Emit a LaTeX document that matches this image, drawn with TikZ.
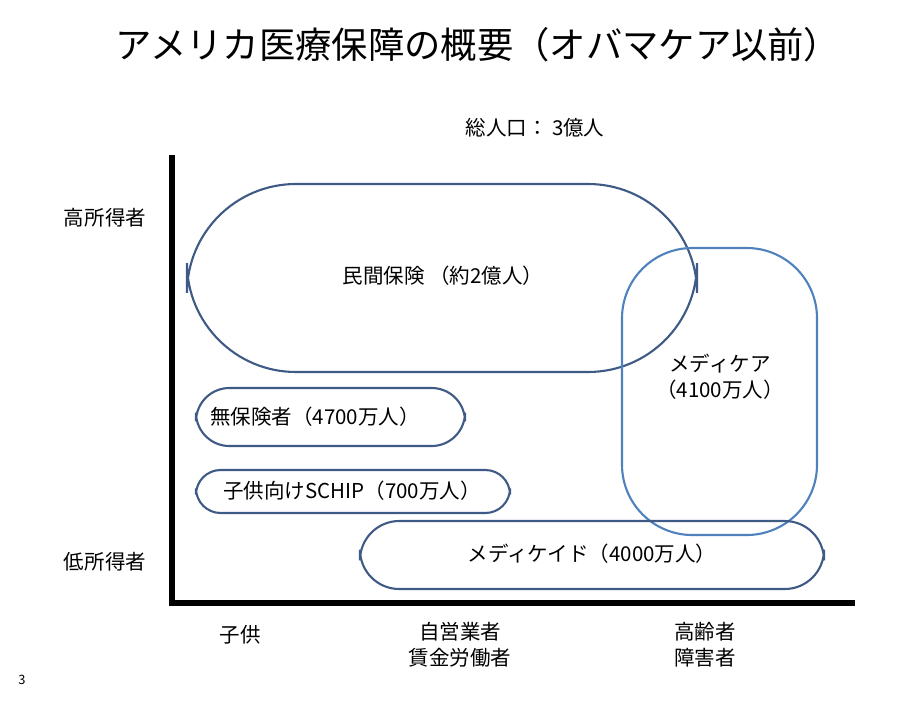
\documentclass[tikz,border=0pt]{standalone}
\usepackage{fontspec}
\setmainfont{Noto Sans CJK JP}
\usepackage{tikz}
\definecolor{darkblue}{HTML}{3F5A85}
\definecolor{lightblue}{HTML}{4F81BD}
\begin{document}
\begin{tikzpicture}[x=0.03cm,y=-0.03cm]
  \tikzset{
    group/.style={draw=darkblue,line width=1.8pt,rounded corners=#1,inner sep=0pt},
    lbl/.style={font=\fontsize{17.5}{22}\selectfont,align=center},
    axis/.style={line width=5pt}
  }
  \useasboundingbox (0,0) rectangle (904,701);

  \node[font=\fontsize{31}{36}\selectfont] (title) at (478,45) {アメリカ医療保障の概要（オバマケア以前）};
  \node[lbl] (total) at (535,128) {総人口：\ 3億人};

  % axes
  \coordinate (top) at (172,155);
  \coordinate (origin) at (172,603);
  \coordinate (right) at (855,603);
  \draw[axis] (top) -- (origin) -- (right);

  % groups
  \draw[group=93] (187,184) rectangle (697,372);
  \draw[group=60,draw=lightblue] (622,248) rectangle (817,535);
  \draw[group=28.5] (196,388) rectangle (465,446);
  \draw[group=21] (196,470) rectangle (510,513);
  \draw[group=33.5] (360,521) rectangle (824,589);

  \node[lbl] (private) at (443,276) {民間保険\ （約2億人）};
  \node[lbl] (medicare) at (720,377) {メディケア\\（4100万人）};
  \node[lbl] (uninsured) at (315,417) {無保険者（4700万人）};
  \node[lbl] (schip) at (352,491) {子供向けSCHIP（700万人）};
  \node[lbl] (medicaid) at (592,554) {メディケイド（4000万人）};

  % axis labels
  \node[lbl] (high) at (105,218) {高所得者};
  \node[lbl] (low) at (105,562) {低所得者};
  \node[lbl] (child) at (240,635) {子供};
  \node[lbl] (worker) at (460,645) {自営業者\\賃金労働者};
  \node[lbl] (elder) at (705,645) {高齢者\\障害者};
  \node[font=\fontsize{11}{13}\selectfont] (page) at (22,680) {3};
\end{tikzpicture}
\end{document}
